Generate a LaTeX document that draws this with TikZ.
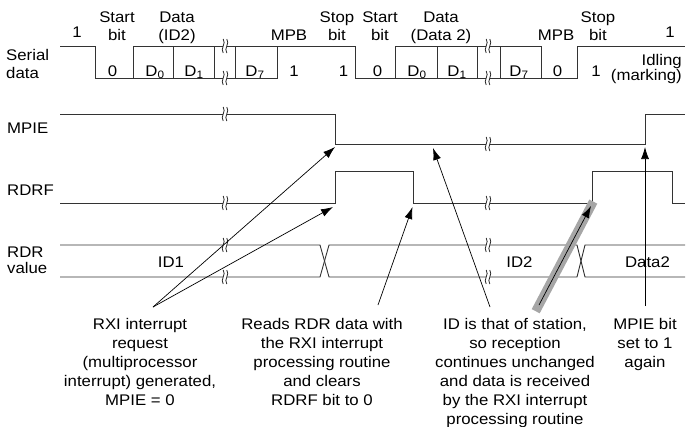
\documentclass[tikz,border=0pt]{standalone}
\usepackage{fontspec}
\setmainfont[FakeStretch=1.09]{Liberation Sans}
\usetikzlibrary{arrows.meta}
\newcommand\mlc[2]{{\fontsize{15.4}{#1}\selectfont\begin{tabular}[t]{@{}c@{}}#2\end{tabular}}}
\newcommand\mll[2]{{\fontsize{15.4}{#1}\selectfont\begin{tabular}[t]{@{}l@{}}#2\end{tabular}}}
\newcommand\mlr[2]{{\fontsize{15.4}{#1}\selectfont\begin{tabular}[t]{@{}r@{}}#2\end{tabular}}}
\begin{document}
\begin{tikzpicture}[x=1pt,y=-1pt,
  wave/.style={line width=0.9pt, black!80, line join=miter},
  lbl/.style={anchor=base, inner sep=0pt, font=\fontsize{15.4}{19}\selectfont},
  lft/.style={lbl, anchor=base west},
  rgt/.style={lbl, anchor=base east},
  ptr/.style={-{Latex[length=12pt,width=8pt]}, line width=0.7pt, black},
  band/.style={line width=9pt, black!35},
  brk/.pic={
    \fill[white] (-1.8,-6) rectangle (1.8,6);
    \draw[line width=0.8pt, black!85] (-1.8,-7) .. controls (1.6,-2.5) and (-5.2,2.5) .. (-1.8,7);
    \draw[line width=0.8pt, black!85] (1.8,-7) .. controls (5.2,-2.5) and (-1.6,2.5) .. (1.8,7);
  }]
\useasboundingbox (0,0) rectangle (692,426);

% ---------- left labels
\node[lft] (lserial) at (6,60) {\mll{18}{Serial\\data}};
\node[lft] (lmpie) at (7,133) {MPIE};
\node[lft] (lrdrf) at (7,195) {RDRF};
\node[lft] (lrdr) at (7,257) {\mll{16}{RDR\\value}};

% ---------- top labels
\node[lbl] (t1a) at (77,37) {1};
\node[lbl] (tstart1) at (117,22) {\mlc{18}{Start\\bit}};
\node[lbl] (tdata1) at (177,22) {\mlc{18}{Data\\(ID2)}};
\node[lbl] (tmpb1) at (289,40) {MPB};
\node[lbl] (tstop1) at (337,22) {\mlc{18}{Stop\\bit}};
\node[lbl] (tstart2) at (380,22) {\mlc{18}{Start\\bit}};
\node[lbl] (tdata2) at (441,22) {\mlc{18}{Data\\(Data 2)}};
\node[lbl] (tmpb2) at (556,40) {MPB};
\node[lbl] (tstop2) at (598,22) {\mlc{18}{Stop\\bit}};
\node[lbl] (t1b) at (670,37) {1};

% ---------- serial data waveform
\draw[wave] (60,46) -- (95,46) -- (95,78) -- (133,78);
\draw[wave] (133,46) rectangle (214,78);
\draw[wave] (173,46) -- (173,78);
\draw[wave] (214,46) -- (235,46) (214,78) -- (235,78);
\draw[wave] (235,46) rectangle (277,78);
\draw[wave] (277,46) -- (355,46) -- (355,78) -- (395,78);
\draw[wave] (395,46) rectangle (477,78);
\draw[wave] (437,46) -- (437,78);
\draw[wave] (477,46) -- (500,46) (477,78) -- (500,78);
\draw[wave] (500,46) rectangle (541,78);
\draw[wave] (541,78) -- (577,78) -- (577,46) -- (685,46);

% bit values
\node[lbl] (b0a) at (112.5,76) {0};
\node[lbl] (bd0a) at (155,76) {D\textsubscript{0}};
\node[lbl] (bd1a) at (194,76) {D\textsubscript{1}};
\node[lbl] (bd7a) at (255,76) {D\textsubscript{7}};
\node[lbl] (bmpa) at (294,76) {1};
\node[lbl] (bspa) at (343.5,76) {1};
\node[lbl] (b0b) at (377.5,76) {0};
\node[lbl] (bd0b) at (417,76) {D\textsubscript{0}};
\node[lbl] (bd1b) at (457,76) {D\textsubscript{1}};
\node[lbl] (bd7b) at (519,76) {D\textsubscript{7}};
\node[lbl] (bmpb) at (557.5,76) {0};
\node[lbl] (bspb) at (596,76) {1};
\node[rgt] (idle) at (682,65.5) {\mlr{14}{Idling\\(marking)}};

% ---------- MPIE
\draw[wave] (60,114) -- (335,114) -- (335,144) -- (645,144) -- (645,114) -- (685,114);
% ---------- RDRF
\draw[wave] (60,203) -- (335,203) -- (335,171) -- (413,171) -- (413,203) -- (592,203) -- (592,171) -- (672,171) -- (672,203) -- (685,203);
% ---------- RDR value
\draw[wave] (60,245) -- (320,245) -- (329,277) -- (577,277) -- (585,245) -- (685,245);
\draw[wave] (60,277) -- (320,277) -- (329,245) -- (577,245) -- (585,277) -- (685,277);
\node[lbl] (vid1) at (171,267) {ID1};
\node[lbl] (vid2) at (519.5,267) {ID2};
\node[lbl] (vdata2) at (647.5,267) {Data2};

% ---------- break marks
\foreach \y in {46,78,114,203,245,277} \pic at (225,\y) {brk};
\foreach \y in {46,78,144,203,245,277} \pic at (488,\y) {brk};

% ---------- notes
\node[lbl] (n1) at (140,329) {\mlc{19}{RXI interrupt\\request\\(multiprocessor\\interrupt) generated,\\MPIE = 0}};
\node[lbl] (n2) at (322,329) {\mlc{19}{Reads RDR data with\\the RXI interrupt\\processing routine\\and clears\\RDRF bit to 0}};
\node[lbl] (n3) at (515,329) {\mlc{19}{ID is that of station,\\so reception\\continues unchanged\\and data is received\\by the RXI interrupt\\processing routine}};
\node[lbl] (n4) at (645,329) {\mlc{19}{MPIE bit\\set to 1\\again}};

% ---------- pointer coordinates
\coordinate (p1) at (153,307);
\coordinate (mpiefall) at (335,147);
\coordinate (rdrfrise) at (333,207);
\coordinate (p2) at (378,305);
\coordinate (rdrffall) at (412.5,207);
\coordinate (p3) at (490,307);
\coordinate (mpielow) at (433,148);
\coordinate (p4) at (539,305);
\coordinate (rdrfrise2) at (591,206);
\coordinate (p4b) at (535.7,311.2);
\coordinate (rdrfrise2b) at (593.3,201.6);
\coordinate (p5) at (645,306);
\coordinate (mpierise) at (645,147);

\draw[band] (p4b) -- (rdrfrise2b);
\draw[ptr] (p1) -- (mpiefall);
\draw[ptr] (p1) -- (rdrfrise);
\draw[ptr] (p2) -- (rdrffall);
\draw[ptr] (p3) -- (mpielow);
\draw[ptr] (p4) -- (rdrfrise2);
\draw[ptr] (p5) -- (mpierise);
\end{tikzpicture}
\end{document}
